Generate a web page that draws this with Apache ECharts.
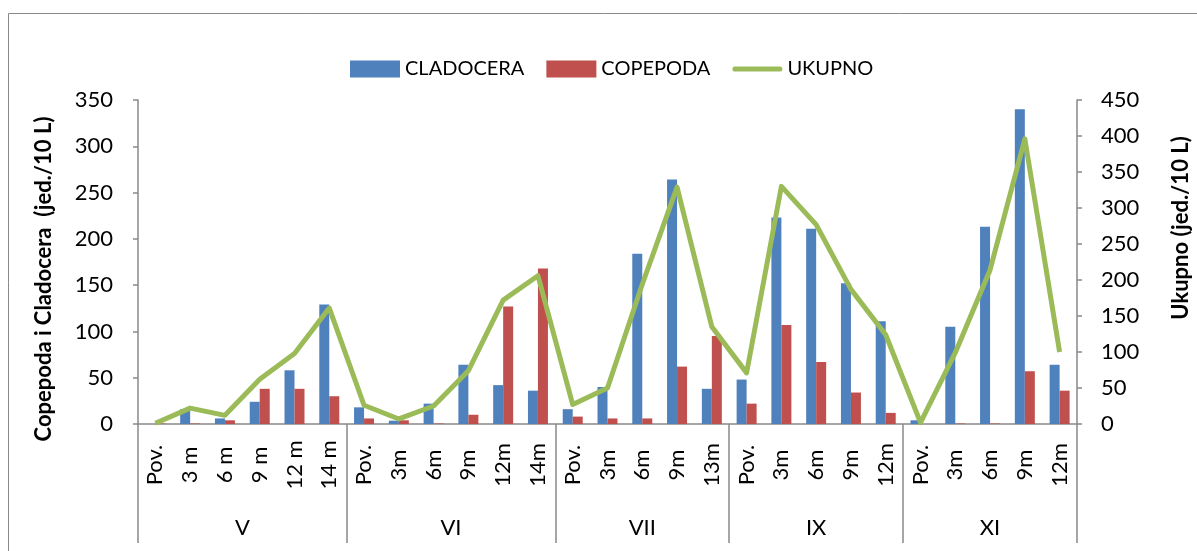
<!DOCTYPE html>
<html>
<head>
<meta charset="utf-8">
<script src="https://cdn.jsdelivr.net/npm/echarts@6/dist/echarts.min.js"></script>
<style>
  html, body { margin: 0; padding: 0; background: #fff; }
  #chart { width: 1197px; height: 551px; }
</style>
</head>
<body>
<div id="chart"></div>
<script>
// dubine po mjesecima
const categories = ['Pov.', '3 m', '6 m', '9 m', '12 m', '14 m',
  'Pov.', '3m', '6m', '9m', '12m', '14m',
  'Pov.', '3m', '6m', '9m', '13m',
  'Pov.', '3m', '6m', '9m', '12m',
  'Pov.', '3m', '6m', '9m', '12m'];
const groupNames = ['V', 'VI', 'VII', 'IX', 'XI'];
const groupSizes = [6, 6, 5, 5, 5];

const cladocera = [0, 16, 6, 24, 58, 129, 18, 3.6, 22, 64, 42, 36, 16, 40, 184, 264, 38, 48, 223, 211, 152, 111, 4, 105, 213, 340, 64];
const copepoda = [0.5, 0.5, 4, 38, 38, 30, 6, 4, 0.5, 10, 127, 168, 8, 6, 6, 62, 95, 22, 107, 67, 34, 12, 0, 0.5, 0.5, 57, 36];
const ukupno = [1, 22, 12, 62, 98, 161, 26, 7, 25, 74, 172, 206, 27, 50, 194, 329, 135, 71, 330, 277, 187, 124, 2, 99, 214, 396, 100];

const leftTicks = { min: 0, max: 350, interval: 50 };
const rightTicks = { min: 0, max: 450, interval: 50 };

// granice i sredine grupa (mjeseci)
const groupEdges = [0];
groupSizes.forEach((s) => groupEdges.push(groupEdges[groupEdges.length - 1] + s));
const groupMids = groupSizes.map((s, i) => groupEdges[i] + s / 2);

const axisGrey = '#898989';
const font = 'Lato';

const chart = echarts.init(document.getElementById('chart'));
const options = {
  animation: false,
  textStyle: { fontFamily: font },
  graphic: [{
    type: 'rect',
    shape: { x: 8.5, y: 13.5, width: 1300, height: 700 },
    style: { fill: 'none', stroke: axisGrey, lineWidth: 1 },
    silent: true,
    z: -1
  }],
  legend: {
    left: 345,
    top: 54,
    itemWidth: 50,
    itemHeight: 17,
    itemGap: 22,
    textStyle: { fontSize: 20, color: '#000', fontFamily: font },
    data: [
      { name: 'CLADOCERA', icon: 'rect' },
      { name: 'COPEPODA', icon: 'rect' },
      { name: 'UKUPNO', icon: 'path://M2,0 L48,0 Q50,0 50,2.5 Q50,5 48,5 L2,5 Q0,5 0,2.5 Q0,0 2,0 Z' }
    ]
  },
  grid: { left: 138, right: 120, top: 100, bottom: 127, outerBoundsMode: 'none' },
  xAxis: [
    {
      type: 'category',
      data: categories,
      position: 'bottom',
      axisLine: { lineStyle: { color: axisGrey, width: 1.5 } },
      axisTick: { length: 69, interval: 0, lineStyle: { color: axisGrey, width: 1.5 } },
      axisLabel: {
        interval: 0,
        rotate: 90,
        align: 'center',
        verticalAlign: 'middle',
        margin: 41,
        fontSize: 22,
        color: '#000',
        fontFamily: font
      }
    },
    {
      type: 'value',
      position: 'bottom',
      min: 0,
      max: categories.length,
      axisLine: { show: false },
      splitLine: { show: false },
      axisTick: {
        show: true,
        customValues: groupEdges,
        length: 119,
        lineStyle: { color: axisGrey, width: 1.5 }
      },
      axisLabel: {
        customValues: groupMids,
        margin: 104,
        fontSize: 22,
        color: '#000',
        fontFamily: font,
        verticalAlign: 'middle',
        formatter: (v) => groupNames[groupMids.indexOf(v)]
      }
    }
  ],
  yAxis: [
    {
      type: 'value',
      position: 'left',
      min: leftTicks.min,
      max: leftTicks.max,
      interval: leftTicks.interval,
      name: 'Copepoda i Cladocera  (jed./10 L)',
      nameLocation: 'middle',
      nameRotate: 90,
      nameGap: 83,
      nameTextStyle: { fontSize: 22, fontWeight: 'bold', color: '#000', fontFamily: font, padding: [0, 34, 0, 0] },
      axisLine: { show: true, lineStyle: { color: axisGrey, width: 1.5 } },
      axisTick: { show: true, length: 5, lineStyle: { color: axisGrey, width: 1.5 } },
      splitLine: { show: false },
      axisLabel: { margin: 25, fontSize: 22, color: '#000', fontFamily: font }
    },
    {
      type: 'value',
      position: 'right',
      min: rightTicks.min,
      max: rightTicks.max,
      interval: rightTicks.interval,
      name: 'Ukupno (jed./10 L)',
      nameLocation: 'middle',
      nameRotate: 90,
      nameGap: 93,
      nameTextStyle: { fontSize: 22, fontWeight: 'bold', color: '#000', fontFamily: font, padding: [0, 0, 0, 68] },
      axisLine: { show: true, lineStyle: { color: axisGrey, width: 1.5 } },
      axisTick: { show: true, length: 5, lineStyle: { color: axisGrey, width: 1.5 } },
      splitLine: { show: false },
      axisLabel: { margin: 24, fontSize: 22, color: '#000', fontFamily: font }
    }
  ],
  series: [
    {
      name: 'CLADOCERA',
      type: 'bar',
      barWidth: 10,
      barGap: '0%',
      itemStyle: { color: '#4F81BD' },
      data: cladocera
    },
    {
      name: 'COPEPODA',
      type: 'bar',
      barWidth: 10,
      barGap: '0%',
      itemStyle: { color: '#C0504D' },
      data: copepoda
    },
    {
      name: 'UKUPNO',
      type: 'line',
      yAxisIndex: 1,
      symbol: 'none',
      lineStyle: { color: '#9BBB59', width: 5, join: 'round' },
      itemStyle: { color: '#9BBB59' },
      z: 5,
      data: ukupno
    }
  ]
};
chart.setOption(options);
window.addEventListener('resize', () => {
  chart.resize();
});
</script>
</body>
</html>
